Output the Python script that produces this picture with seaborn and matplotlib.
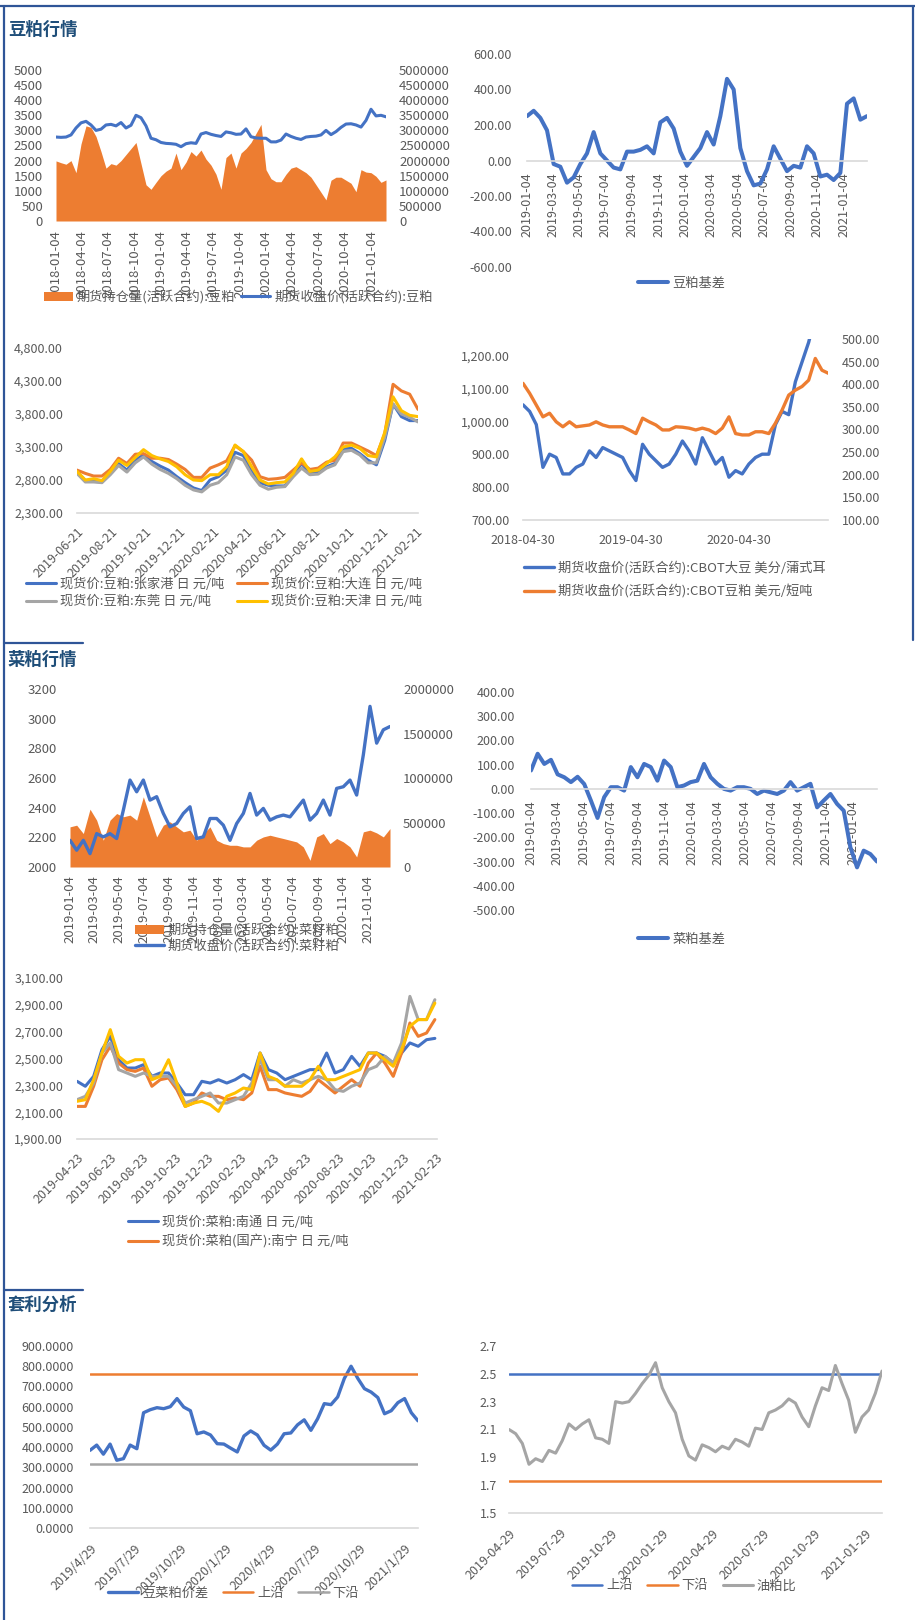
import numpy as np
import pandas as pd
import matplotlib
matplotlib.use("Agg")
import matplotlib.pyplot as plt
from matplotlib.lines import Line2D
from matplotlib.ticker import FuncFormatter
import seaborn as sns

W, H = 915, 1620
BLUE, ORANGE, GREY, GOLD = "#4472C4", "#ED7D31", "#A5A5A5", "#FFC000"
NAVY = "#2F5597"
TITLE = "#1F4E79"
TXT = "#595959"
AXC = "#D9D9D9"

# ---------------- 豆粕行情 ----------------
sm_dates = pd.date_range("2018-01-04", "2021-02-23", periods=67)
sm_close = [2780, 2770, 2780, 2850, 3080, 3250, 3300, 3180, 3000, 3040,
            3180, 3200, 3150, 3260, 3080, 3170, 3500, 3420, 3150, 2740,
            2690, 2600, 2570, 2560, 2540, 2460, 2560, 2590, 2570, 2880,
            2930, 2870, 2830, 2800, 2950, 2920, 2870, 2880, 3050, 2790,
            2750, 2740, 2740, 2620, 2620, 2680, 2880, 2800, 2740, 2700,
            2780, 2800, 2810, 2850, 3000, 2860, 2960, 3100, 3210, 3220,
            3180, 3110, 3330, 3700, 3480, 3500, 3450]
sm_oi = [1990000, 1930000, 1880000, 2000000, 1600000, 2550000, 3150000, 3100000, 2800000, 2300000,
         1750000, 1900000, 1850000, 2000000, 2200000, 2400000, 2600000, 1900000, 1200000, 1050000,
         1280000, 1500000, 1650000, 1750000, 2250000, 1700000, 1950000, 2300000, 2150000, 2350000,
         2050000, 1850000, 1550000, 1050000, 2100000, 2250000, 1750000, 2250000, 2400000, 2600000,
         2900000, 3200000, 1700000, 1400000, 1300000, 1300000, 1550000, 1750000, 1800000, 1700000,
         1600000, 1450000, 1200000, 950000, 700000, 1350000, 1450000, 1450000, 1350000, 1250000,
         970000, 1700000, 1620000, 1600000, 1480000, 1280000, 1360000]
sm_ticks = ["2018-01-04", "2018-04-04", "2018-07-04", "2018-10-04", "2019-01-04",
            "2019-04-04", "2019-07-04", "2019-10-04", "2020-01-04", "2020-04-04",
            "2020-07-04", "2020-10-04", "2021-01-04"]

smb_dates = pd.date_range("2019-01-04", "2021-02-27", periods=52)
smb_basis = [250, 280, 240, 170, -20, -35, -125, -95, -20, 40,
             160, 40, 0, -40, -50, 50, 50, 60, 80, 40,
             215, 240, 180, 50, -30, 20, 70, 160, 90, 250,
             460, 400, 70, -60, -140, -130, -50, 80, 10, -60,
             -30, -40, 80, 40, -90, -80, -110, -70, 320, 350,
             230, 250]
bimonth_ticks = ["2019-01-04", "2019-03-04", "2019-05-04", "2019-07-04", "2019-09-04",
                 "2019-11-04", "2020-01-04", "2020-03-04", "2020-05-04", "2020-07-04",
                 "2020-09-04", "2020-11-04", "2021-01-04"]

sp_dates = pd.date_range("2019-06-21", "2021-02-24", periods=42)
sp_zjg = [2920, 2790, 2780, 2770, 2900, 3050, 2950, 3100, 3180, 3080,
          3010, 2950, 2850, 2760, 2680, 2640, 2800, 2850, 2950, 3220,
          3170, 2950, 2760, 2720, 2710, 2710, 2870, 3050, 2900, 2920,
          3000, 3050, 3280, 3280, 3200, 3100, 3030, 3400, 3950, 3760,
          3700, 3700]
sp_dl = [2950, 2900, 2860, 2860, 2960, 3130, 3050, 3190, 3200, 3130,
         3130, 3110, 3040, 2960, 2840, 2840, 2980, 3030, 3090, 3320,
         3230, 3100, 2850, 2810, 2820, 2840, 2950, 3060, 2960, 2980,
         3070, 3100, 3360, 3360, 3300, 3240, 3170, 3500, 4250, 4150,
         4100, 3870]
sp_dg = [2900, 2770, 2770, 2760, 2880, 3020, 2920, 3060, 3150, 3040,
         2960, 2900, 2820, 2720, 2650, 2620, 2720, 2760, 2880, 3150,
         3100, 2880, 2720, 2660, 2690, 2700, 2850, 2980, 2880, 2890,
         2980, 3030, 3230, 3250, 3180, 3060, 3060, 3450, 3950, 3800,
         3750, 3680]
sp_tj = [2930, 2800, 2820, 2790, 2930, 3100, 3020, 3140, 3260, 3170,
         3120, 3080, 3000, 2880, 2800, 2790, 2880, 2880, 3000, 3330,
         3230, 3000, 2800, 2740, 2760, 2770, 2900, 3120, 2930, 2950,
         3050, 3150, 3300, 3330, 3280, 3170, 3150, 3520, 4060, 3850,
         3780, 3760]
sp_ticks = ["2019-06-21", "2019-08-21", "2019-10-21", "2019-12-21", "2020-02-21", "2020-04-21",
            "2020-06-21", "2020-08-21", "2020-10-21", "2020-12-21", "2021-02-21"]

cbot_dates = pd.date_range("2018-04-30", "2021-02-27", periods=47)
cbot_soy = [1050, 1030, 990, 860, 900, 890, 840, 840, 860, 870,
            910, 890, 920, 910, 900, 890, 850, 820, 930, 900,
            880, 860, 870, 900, 940, 910, 870, 950, 910, 870,
            890, 830, 850, 840, 870, 890, 900, 900, 990, 1030,
            1020, 1120, 1180, 1240, 1320, 1360, 1380]
cbot_meal = [402, 380, 354, 328, 336, 317, 306, 317, 306, 308,
             310, 317, 310, 306, 306, 306, 299, 291, 325, 317,
             310, 299, 299, 306, 305, 303, 299, 303, 299, 291,
             303, 328, 291, 288, 288, 295, 295, 291, 314, 343,
             376, 387, 395, 409, 457, 431, 424]
cbot_ticks = ["2018-04-30", "2019-04-30", "2020-04-30"]

# ---------------- 菜粕行情 ----------------
rm_dates = pd.date_range("2019-01-04", "2021-02-26", periods=49)
rm_close = [2180, 2113, 2180, 2090, 2225, 2203, 2225, 2192, 2383, 2586,
            2507, 2586, 2451, 2474, 2361, 2271, 2293, 2361, 2406, 2192,
            2203, 2327, 2327, 2282, 2180, 2293, 2361, 2496, 2350, 2395,
            2316, 2338, 2350, 2338, 2395, 2451, 2316, 2361, 2451, 2350,
            2530, 2541, 2586, 2485, 2756, 3083, 2835, 2925, 2947]
rm_oi = [451000, 470000, 376000, 650000, 526000, 301000, 526000, 601000, 564000, 583000,
         526000, 789000, 564000, 338000, 470000, 508000, 451000, 395000, 414000, 301000,
         376000, 451000, 301000, 263000, 244000, 244000, 226000, 226000, 301000, 338000,
         357000, 338000, 320000, 301000, 282000, 226000, 75000, 338000, 376000, 263000,
         320000, 282000, 226000, 113000, 395000, 414000, 383000, 338000, 432000]

rmb_dates = pd.date_range("2019-01-04", "2021-02-27", periods=53)
rmb_basis = [76, 145, 103, 120, 60, 48, 28, 50, 20, -48,
             -120, -34, 7, 7, -7, 90, 48, 103, 90, 34,
             117, 90, 7, 14, 28, 34, 103, 48, 21, 0,
             -7, 7, 7, 0, -21, -7, -14, -21, -7, 28,
             -7, 7, 21, -76, -48, -21, -62, -90, -241, -324,
             -255, -269, -300]

rs_dates = pd.date_range("2019-04-23", "2021-02-20", periods=44)
rs_nt = [2330, 2293, 2367, 2566, 2665, 2491, 2429, 2429, 2454, 2367,
         2392, 2392, 2317, 2230, 2230, 2330, 2317, 2342, 2317, 2342,
         2380, 2342, 2541, 2417, 2392, 2342, 2367, 2392, 2417, 2417,
         2541, 2392, 2417, 2516, 2442, 2541, 2541, 2516, 2466, 2541,
         2616, 2591, 2640, 2650]
rs_nn = [2143, 2143, 2293, 2491, 2591, 2466, 2417, 2404, 2429, 2293,
         2342, 2355, 2268, 2143, 2168, 2243, 2218, 2218, 2193, 2206,
         2193, 2243, 2442, 2268, 2268, 2243, 2230, 2218, 2255, 2342,
         2293, 2243, 2293, 2342, 2293, 2466, 2541, 2466, 2367, 2541,
         2765, 2665, 2690, 2790]
rs_grey = [2193, 2218, 2317, 2541, 2616, 2417, 2392, 2367, 2392, 2367,
           2367, 2367, 2293, 2168, 2193, 2218, 2243, 2168, 2168, 2193,
           2218, 2317, 2491, 2342, 2342, 2293, 2342, 2317, 2342, 2367,
           2342, 2268, 2255, 2293, 2317, 2417, 2442, 2516, 2466, 2616,
           2963, 2790, 2790, 2938]
rs_gold = [2181, 2193, 2342, 2541, 2715, 2516, 2466, 2491, 2491, 2342,
           2367, 2491, 2317, 2143, 2168, 2181, 2156, 2106, 2218, 2243,
           2280, 2268, 2541, 2367, 2342, 2293, 2293, 2293, 2342, 2442,
           2342, 2342, 2367, 2392, 2417, 2541, 2541, 2491, 2442, 2566,
           2740, 2790, 2790, 2913]
rs_ticks = ["2019-04-23", "2019-06-23", "2019-08-23", "2019-10-23", "2019-12-23", "2020-02-23",
            "2020-04-23", "2020-06-23", "2020-08-23", "2020-10-23", "2020-12-23", "2021-02-23"]

# ---------------- 套利分析 ----------------
spr_dates = pd.date_range("2019-04-29", "2021-02-25", periods=50)
spr_values = [384, 410, 365, 415, 335, 343, 410, 392, 570, 585,
              595, 590, 600, 640, 598, 580, 466, 475, 460, 417,
              415, 395, 376, 455, 480, 460, 409, 385, 415, 466,
              470, 510, 535, 483, 540, 615, 610, 648, 740, 800,
              740, 689, 672, 645, 565, 580, 620, 640, 570, 530]
SPR_UPPER, SPR_LOWER = 760, 315

ratio_dates = pd.date_range("2019-04-29", "2021-02-28", periods=57)
ratio_values = [2.10, 2.07, 2.00, 1.85, 1.89, 1.87, 1.95, 1.93, 2.02, 2.14,
                2.10, 2.14, 2.17, 2.04, 2.03, 2.00, 2.30, 2.29, 2.30, 2.36,
                2.43, 2.49, 2.58, 2.40, 2.30, 2.22, 2.03, 1.91, 1.88, 1.99,
                1.97, 1.94, 1.98, 1.96, 2.03, 2.01, 1.98, 2.11, 2.10, 2.22,
                2.24, 2.27, 2.32, 2.29, 2.19, 2.12, 2.27, 2.40, 2.38, 2.56,
                2.43, 2.31, 2.08, 2.19, 2.24, 2.36, 2.52]
RATIO_UPPER, RATIO_LOWER = 2.5, 1.73
arb_ticks = ["2019-04-29", "2019-07-29", "2019-10-29", "2020-01-29",
             "2020-04-29", "2020-07-29", "2020-10-29", "2021-01-29"]

# ---------------- drawing ----------------
sns.set_theme(style="white")
plt.rcParams["font.family"] = ["Noto Sans CJK SC", "DejaVu Sans"]
plt.rcParams["axes.unicode_minus"] = False

fig = plt.figure(figsize=(W / 100, H / 100), dpi=100)


def box(l, t, r, b):
    return fig.add_axes([l / W, 1 - b / H, (r - l) / W, (b - t) / H])


def clean(ax, size=9):
    ax.set_xlabel("")
    ax.set_ylabel("")
    ax.grid(False)
    for s in ax.spines.values():
        s.set_visible(False)
    ax.tick_params(axis="both", length=0, colors=TXT, labelsize=size)


def base_axis(ax):
    ax.spines["bottom"].set_visible(True)
    ax.spines["bottom"].set_color(AXC)
    ax.spines["bottom"].set_linewidth(1.2)
    ax.tick_params(axis="x", length=4, width=1, color=AXC, direction="out")


def date_ticks(ax, ticks, labels, rotation, pad, size=9):
    ax.set_xticks(pd.to_datetime(ticks))
    if rotation == 45:
        ax.set_xticklabels(labels, rotation=45, ha="right", rotation_mode="anchor")
    else:
        ax.set_xticklabels(labels, rotation=rotation, ha="center")
    ax.tick_params(axis="x", pad=pad, labelsize=size, labelcolor=TXT)


def fmt(ax, spec):
    ax.yaxis.set_major_formatter(FuncFormatter(lambda v, p: format(v, spec)))


def legend(ax, handles, labels, x, y, ncol=1, colsp=1.0, rowsp=0.35, hl=2.3):
    ax.legend(handles, labels, loc="center left", bbox_to_anchor=(x / W, 1 - y / H),
              bbox_transform=fig.transFigure, ncol=ncol, frameon=False, fontsize=9.5,
              handlelength=hl, handletextpad=0.3, columnspacing=colsp, labelspacing=rowsp,
              borderpad=0, borderaxespad=0, labelcolor=TXT)


def section(text, y):
    fig.text(8 / W, 1 - y / H, text, fontsize=12.5, fontweight="bold", color=TITLE,
             ha="left", va="center")


def frame(x0, y0, x1, y1):
    fig.add_artist(Line2D([x0 / W, x1 / W], [1 - y0 / H, 1 - y1 / H], color=NAVY, lw=1.6))


# frame lines
frame(0, 6, W, 6)
frame(4, 6, 4, H)
frame(913, 6, 913, 640)
frame(4, 643, 83, 643)
frame(4, 1290, 83, 1290)
section("豆粕行情", 30)
section("菜粕行情", 660)
section("套利分析", 1305)

# A: 豆粕 持仓量 + 收盘价
axA = box(56, 70, 386, 221)
sns.lineplot(x=sm_dates, y=sm_close, ax=axA, color=BLUE, linewidth=2.2, errorbar=None)
lineA = axA.lines[-1]
axA2 = axA.twinx()
areaA = axA2.fill_between(sm_dates, 0, sm_oi, color=ORANGE, linewidth=0)
axA.set_zorder(axA2.get_zorder() + 1)
axA.patch.set_visible(False)
clean(axA, 9.5)
clean(axA2, 9.5)
axA.set_ylim(0, 5000)
axA.set_yticks(np.arange(0, 5001, 500))
fmt(axA, ".0f")
axA2.set_ylim(0, 5000000)
axA2.set_yticks(np.arange(0, 5000001, 500000))
fmt(axA2, ".0f")
axA.tick_params(axis="y", pad=9.4)
axA2.tick_params(axis="y", pad=9.4)
axA.set_xlim(sm_dates[0], sm_dates[-1])
date_ticks(axA, sm_ticks, sm_ticks, 90, 6.5, 9.5)
legend(axA, [areaA, lineA], ["期货持仓量(活跃合约):豆粕", "期货收盘价(活跃合约):豆粕"],
       44, 297, ncol=2, colsp=0.45, hl=2.2)

# B: 豆粕基差
axB = box(527, 54, 867, 267)
sns.lineplot(x=smb_dates, y=smb_basis, ax=axB, color=BLUE, linewidth=2.9, errorbar=None)
clean(axB)
axB.spines["bottom"].set_position(("data", 0))
base_axis(axB)
axB.set_ylim(-600, 600)
axB.set_yticks(np.arange(-600, 601, 200))
fmt(axB, ".2f")
axB.tick_params(axis="y", pad=11)
axB.set_xlim(smb_dates[0], smb_dates[-1])
date_ticks(axB, bimonth_ticks, bimonth_ticks, 90, 4.3)
legend(axB, [axB.lines[0]], ["豆粕基差"], 638, 283)

# C: 豆粕现货价
axC = box(77, 348, 418, 513)
sp_handles = []
for vals, col in [(sp_zjg, BLUE), (sp_dl, ORANGE), (sp_dg, GREY), (sp_tj, GOLD)]:
    sns.lineplot(x=sp_dates, y=vals, ax=axC, color=col, linewidth=2.2, errorbar=None)
    sp_handles.append(axC.lines[-1])
clean(axC)
base_axis(axC)
axC.set_ylim(2300, 4800)
axC.set_yticks(np.arange(2300, 4801, 500))
fmt(axC, ",.2f")
axC.tick_params(axis="y", pad=10)
axC.set_xlim(sp_dates[0], sp_dates[-1])
date_ticks(axC, sp_ticks, sp_ticks, 45, 5)
legend(axC, [sp_handles[0], sp_handles[2], sp_handles[1], sp_handles[3]],
       ["现货价:豆粕:张家港 日 元/吨", "现货价:豆粕:东莞 日 元/吨",
        "现货价:豆粕:大连 日 元/吨", "现货价:豆粕:天津 日 元/吨"],
       26, 593, ncol=2, colsp=0.9, rowsp=0.35)

# D: CBOT
axD = box(523, 339, 828, 520)
sns.lineplot(x=cbot_dates, y=cbot_soy, ax=axD, color=BLUE, linewidth=2.4, errorbar=None)
lineD1 = axD.lines[-1]
axD2 = axD.twinx()
sns.lineplot(x=cbot_dates, y=cbot_meal, ax=axD2, color=ORANGE, linewidth=2.4, errorbar=None)
lineD2 = axD2.lines[-1]
clean(axD)
clean(axD2)
base_axis(axD)
axD.set_ylim(700, 1250)
axD.set_yticks(np.arange(700, 1201, 100))
fmt(axD, ",.2f")
axD2.set_ylim(100, 500)
axD2.set_yticks(np.arange(100, 501, 50))
fmt(axD2, ".2f")
axD.tick_params(axis="y", pad=9.4)
axD2.tick_params(axis="y", pad=10)
axD.set_xlim(cbot_dates[0], pd.Timestamp("2021-02-25"))
date_ticks(axD, cbot_ticks, cbot_ticks, 0, 5.8)
legend(axD2, [lineD1, lineD2],
       ["期货收盘价(活跃合约):CBOT大豆 美分/蒲式耳", "期货收盘价(活跃合约):CBOT豆粕 美元/短吨"],
       524, 580, rowsp=0.75)

# E: 菜籽粕 持仓量 + 收盘价
axE = box(70, 689, 390, 867)
sns.lineplot(x=rm_dates, y=rm_close, ax=axE, color=BLUE, linewidth=2.4, errorbar=None)
lineE = axE.lines[-1]
axE2 = axE.twinx()
areaE = axE2.fill_between(rm_dates, 0, rm_oi, color=ORANGE, linewidth=0)
axE.set_zorder(axE2.get_zorder() + 1)
axE.patch.set_visible(False)
clean(axE, 9.5)
clean(axE2, 9.5)
axE.set_ylim(2000, 3200)
axE.set_yticks(np.arange(2000, 3201, 200))
fmt(axE, ".0f")
axE2.set_ylim(0, 2000000)
axE2.set_yticks(np.arange(0, 2000001, 500000))
fmt(axE2, ".0f")
axE.tick_params(axis="y", pad=9.4)
axE2.tick_params(axis="y", pad=9.4)
axE.set_xlim(rm_dates[0], rm_dates[-1])
date_ticks(axE, bimonth_ticks, bimonth_ticks, 90, 5.8, 9.5)
legend(axE, [areaE, lineE], ["期货持仓量(活跃合约):菜籽粕", "期货收盘价(活跃合约):菜籽粕"],
       135, 938, rowsp=0.15, hl=2.2)

# F: 菜粕基差
axF = box(531, 692, 877, 910)
sns.lineplot(x=rmb_dates, y=rmb_basis, ax=axF, color=BLUE, linewidth=2.9, errorbar=None)
clean(axF)
axF.spines["bottom"].set_position(("data", 0))
base_axis(axF)
axF.set_ylim(-500, 400)
axF.set_yticks(np.arange(-500, 401, 100))
fmt(axF, ".2f")
axF.tick_params(axis="y", pad=11.5)
axF.set_xlim(rmb_dates[0], rmb_dates[-1])
date_ticks(axF, bimonth_ticks, bimonth_ticks, 90, 4.3)
legend(axF, [axF.lines[0]], ["菜粕基差"], 638, 939)

# G: 菜粕现货价
axG = box(77, 978, 437, 1139)
rs_handles = []
for vals, col in [(rs_nt, BLUE), (rs_nn, ORANGE), (rs_grey, GREY), (rs_gold, GOLD)]:
    sns.lineplot(x=rs_dates, y=vals, ax=axG, color=col, linewidth=2.2, errorbar=None)
    rs_handles.append(axG.lines[-1])
clean(axG)
base_axis(axG)
axG.set_ylim(1900, 3100)
axG.set_yticks(np.arange(1900, 3101, 200))
fmt(axG, ",.2f")
axG.tick_params(axis="y", pad=10)
axG.set_xlim(rs_dates[0], pd.Timestamp("2021-02-24"))
date_ticks(axG, rs_ticks, rs_ticks, 45, 5)
legend(axG, rs_handles[:2], ["现货价:菜粕:南通 日 元/吨", "现货价:菜粕(国产):南宁 日 元/吨"],
       128, 1232, rowsp=0.4)

# H: 豆菜粕价差
axH = box(90, 1346, 418, 1528)
sns.lineplot(x=spr_dates, y=spr_values, ax=axH, color=BLUE, linewidth=2.4, errorbar=None)
lineH = axH.lines[-1]
upH = axH.axhline(SPR_UPPER, color=ORANGE, linewidth=1.8)
loH = axH.axhline(SPR_LOWER, color=GREY, linewidth=1.8)
clean(axH)
base_axis(axH)
axH.set_ylim(0, 900)
axH.set_yticks(np.arange(0, 901, 100))
fmt(axH, ".4f")
axH.tick_params(axis="y", pad=11.5)
axH.set_xlim(spr_dates[0], spr_dates[-1])
arb_labels_h = [f"{d.year}/{d.month}/{d.day}" for d in pd.to_datetime(arb_ticks)]
date_ticks(axH, arb_ticks, arb_labels_h, 45, 6)
legend(axH, [lineH, upH, loH], ["豆菜粕价差", "上沿", "下沿"], 108, 1593, ncol=3, colsp=1.1)

# I: 油粕比
axI = box(509, 1346, 882, 1513)
upI = axI.axhline(RATIO_UPPER, color=BLUE, linewidth=1.8)
loI = axI.axhline(RATIO_LOWER, color=ORANGE, linewidth=1.8)
sns.lineplot(x=ratio_dates, y=ratio_values, ax=axI, color=GREY, linewidth=2.2, errorbar=None)
lineI = axI.lines[-1]
clean(axI)
base_axis(axI)
axI.set_ylim(1.5, 2.7)
axI.set_yticks(np.arange(1.5, 2.71, 0.2))
fmt(axI, ".1f")
axI.tick_params(axis="y", pad=8.6)
axI.set_xlim(ratio_dates[0], ratio_dates[-1])
date_ticks(axI, arb_ticks, arb_ticks, 45, 6)
legend(axI, [upI, loI, lineI], ["上沿", "下沿", "油粕比"], 572, 1586, ncol=3, colsp=1.1)

fig.savefig("out.png", dpi=100)
